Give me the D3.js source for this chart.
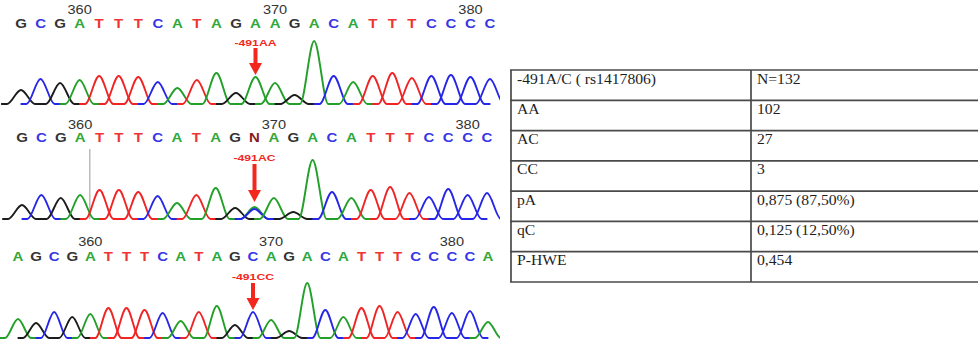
<!DOCTYPE html>
<html>
<head>
<meta charset="utf-8">
<script src="https://cdn.jsdelivr.net/npm/d3@7"></script>
<style>
  body { margin: 0; background: #fff; }
  svg { display: block; }
</style>
</head>
<body>
<svg id="fig" width="978" height="341"></svg>
<script>
// base calls of the three sequencing traces
const calls1 = "GCGATTTCATAGAAGACATTTCCCC".split("");
const calls2 = "GCGATTTCATAGNAGACATTTCCCC".split("");
const calls3 = "AGCGATTTCATAGCAGACATTTCCCCA".split("");

// peak intensity for each call (N = mixed A/C peak)
const peaks1 = [140, 250, 210, 240, 280, 280, 270, 220, 160, 240, 310, 110, 270, 210, 90, 630, 280, 220, 280, 310, 260, 280, 290, 270, 250];
const peaks2 = [140, 240, 210, 240, 290, 290, 270, 230, 160, 240, 310, 110, { A: 120, C: 100 }, 210, 70, 590, 270, 210, 290, 320, 260, 220, 300, 240, 260];
const peaks3 = [190, 150, 260, 210, 240, 300, 300, 280, 250, 170, 260, 320, 130, 260, 180, 70, 550, 280, 210, 300, 320, 260, 240, 310, 250, 270, 160];

const firstPos = [357, 357, 356];
const posTicks = [360, 370, 380];
const snpIndex = [12, 12, 13];
const snpLabels = ["-491AA", "-491AC", "-491CC"];

const tableHead = ["-491A/C ( rs1417806)", "N=132"];
const genotypes = ["AA", "AC", "CC", "pA", "qC", "P-HWE"];
const genoValues = ["102", "27", "3", "0,875 (87,50%)", "0,125 (12,50%)", "0,454"];

const traceColor = { A: "#22a02a", C: "#2626e8", G: "#1c1c1c", T: "#f02424" };
const letterColor = { A: "#2fa83a", C: "#3636e6", G: "#333", T: "#f03434", N: "#8a1a1a" };
const sans = "'Liberation Sans', Arial, sans-serif";
const serif = "'Liberation Serif', 'Times New Roman', 'DejaVu Serif', serif";

const svg = d3.select("#fig");
svg.append("rect").attr("width", 978).attr("height", 341).attr("fill", "#fff");

const panels = [
  { calls: calls1, peaks: peaks1, xr: [21, 490], base: 104, num: 14, letter: 28, lab: 46, arrow: [48, 75] },
  { calls: calls2, peaks: peaks2, xr: [22, 487], base: 219, num: 129, letter: 142, lab: 161, arrow: [164, 202], cursor: 3.5 },
  { calls: calls3, peaks: peaks3, xr: [18, 488], base: 338, num: 246, letter: 261, lab: 280, arrow: [283, 310] }
];

const halfWidth = 0.72;

panels.forEach((p, k) => {
  const n = p.calls.length;
  const x = d3.scaleLinear().domain([0, n - 1]).range(p.xr);
  const y = d3.scaleLinear().domain([0, 700]).range([p.base, p.base - 70]);
  const g = svg.append("g");

  svg.append("clipPath").attr("id", "clip" + k)
    .append("rect").attr("x", 0).attr("y", p.base - 110).attr("width", 500).attr("height", 111);

  // position numbers
  g.selectAll(".pos").data(posTicks).join("text")
    .attr("transform", d => `translate(${x(d - firstPos[k])},${p.num}) scale(1.12,1)`)
    .attr("text-anchor", "middle")
    .attr("font-family", sans)
    .attr("font-size", 13)
    .attr("fill", "#333")
    .text(d => d);

  // base letters
  g.selectAll(".call").data(p.calls).join("text")
    .attr("transform", (d, i) => `translate(${x(i)},${p.letter}) scale(1.2,1)`)
    .attr("text-anchor", "middle")
    .attr("font-family", sans)
    .attr("font-weight", "bold")
    .attr("font-size", 12.5)
    .attr("fill", d => letterColor[d])
    .text(d => d);

  if (p.cursor !== undefined) {
    g.append("line")
      .attr("x1", x(p.cursor)).attr("x2", x(p.cursor))
      .attr("y1", p.base - 70).attr("y2", p.base)
      .attr("stroke", "#aaa").attr("stroke-width", 1.2);
  }

  // traces
  const line = d3.line()
    .x(d => x(d[0]))
    .y(d => y(d[1]))
    .curve(d3.curveMonotoneX);

  const tg = g.append("g").attr("clip-path", `url(#clip${k})`);
  p.peaks.forEach((h, i) => {
    const parts = typeof h === "object" ? Object.entries(h) : [[p.calls[i], h]];
    parts.forEach(([b, v]) => {
      const pts = [[i - halfWidth - 0.3, 0], [i - halfWidth, 0], [i, v], [i + halfWidth, 0], [i + halfWidth + 0.3, 0]];
      tg.append("path")
        .attr("d", line(pts))
        .attr("fill", "none")
        .attr("stroke", traceColor[b])
        .attr("stroke-width", 1.9);
    });
  });

  // SNP marker
  const ax = x(snpIndex[k]);
  g.append("text")
    .attr("x", ax).attr("y", p.lab)
    .attr("text-anchor", "middle")
    .attr("font-family", sans)
    .attr("font-weight", "bold")
    .attr("font-size", 8.5)
    .attr("textLength", 42)
    .attr("lengthAdjust", "spacingAndGlyphs")
    .attr("fill", "#f2281e")
    .text(snpLabels[k]);

  const [a0, a1] = p.arrow;
  const head = 12;
  g.append("path")
    .attr("d", `M${ax - 2},${a0} L${ax + 2},${a0} L${ax + 2},${a1 - head} L${ax + 6.5},${a1 - head} L${ax},${a1} L${ax - 6.5},${a1 - head} L${ax - 2},${a1 - head} Z`)
    .attr("fill", "#f2281e");
});

// table
const rows = [tableHead].concat(genotypes.map((gname, i) => [gname, genoValues[i]]));
const rowY = d3.scaleBand().domain(d3.range(rows.length)).range([70, 282]);
const colX = [511, 751];
const tableRight = 978;
const tb = svg.append("g");

tb.selectAll(".hl").data(d3.range(rows.length + 1)).join("line")
  .attr("x1", colX[0] - 1).attr("x2", tableRight)
  .attr("y1", i => i < rows.length ? rowY(i) : rowY.range()[1])
  .attr("y2", i => i < rows.length ? rowY(i) : rowY.range()[1])
  .attr("stroke", "#4a4a4a").attr("stroke-width", 1.7);

tb.selectAll(".vl").data(colX).join("line")
  .attr("x1", d => d).attr("x2", d => d)
  .attr("y1", rowY.range()[0]).attr("y2", rowY.range()[1])
  .attr("stroke", "#4a4a4a").attr("stroke-width", 1.7);

rows.forEach((r, i) => {
  r.forEach((cell, j) => {
    tb.append("text")
      .attr("transform", `translate(${colX[j] + 6},${rowY(i) + 13.5}) scale(1.08,1)`)
      .attr("font-family", serif)
      .attr("font-size", 14.5)
      .attr("fill", "#1e1e1e")
      .text(cell);
  });
});
</script>
</body>
</html>
